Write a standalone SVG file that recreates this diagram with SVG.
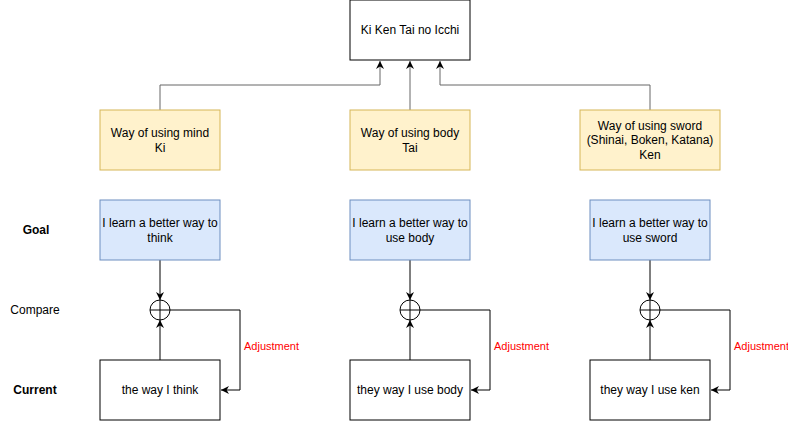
<svg xmlns="http://www.w3.org/2000/svg" width="788" height="421" viewBox="0 0 788 421">
<style>
text{font-family:"Liberation Sans",Arial,sans-serif;font-size:12px;fill:#000;text-anchor:middle}
.w{fill:#fff;stroke:#000;stroke-width:1}
.y{fill:#fff2cc;stroke:#d6b656;stroke-width:1}
.b{fill:#dae8fc;stroke:#6c8ebf;stroke-width:1}
.c{fill:none;stroke:#000;stroke-width:1}
.g{fill:none;stroke:#666;stroke-width:1}
.bold{font-weight:bold}
.adj{fill:#ff0000;font-size:11px;text-anchor:start}
</style>
<defs>
<marker id="a" viewBox="0 0 10 10" refX="10" refY="5" markerWidth="8" markerHeight="8" orient="auto" markerUnits="userSpaceOnUse"><path d="M0,0 L10,5 L0,10 L3,5 Z" fill="#000"/></marker>
</defs>
<rect width="788" height="421" fill="#fff"/>
<g id="connectors">
<path class="g" d="M160,110 V85 H380 V61" marker-end="url(#a)"/>
<path class="g" d="M410,110 V61" marker-end="url(#a)"/>
<path class="g" d="M650,110 V85 H440 V61" marker-end="url(#a)"/>
<path class="c" d="M160,260 V300" marker-end="url(#a)"/>
<path class="c" d="M160,360 V320" marker-end="url(#a)"/>
<path class="c" d="M170,310 H240 V390 H221" marker-end="url(#a)"/>
<path class="c" d="M410,260 V300" marker-end="url(#a)"/>
<path class="c" d="M410,360 V320" marker-end="url(#a)"/>
<path class="c" d="M420,310 H490 V390 H471" marker-end="url(#a)"/>
<path class="c" d="M650,260 V300" marker-end="url(#a)"/>
<path class="c" d="M650,360 V320" marker-end="url(#a)"/>
<path class="c" d="M660,310 H730 V390 H711" marker-end="url(#a)"/>
<text class="adj" x="244" y="350">Adjustment</text>
<text class="adj" x="494" y="350">Adjustment</text>
<text class="adj" x="734" y="350">Adjustment</text>
</g>
<g id="top"><rect class="w" x="350" y="0" width="120" height="60"/><text x="410" y="34">Ki Ken Tai no Icchi</text></g>
<g id="ki"><rect class="y" x="100" y="110" width="120" height="60"/><text x="160" y="137">Way of using mind</text><text x="160" y="152">Ki</text></g>
<g id="tai"><rect class="y" x="350" y="110" width="120" height="60"/><text x="410" y="137">Way of using body</text><text x="410" y="152">Tai</text></g>
<g id="ken"><rect class="y" x="580" y="110" width="140" height="60"/><text x="650" y="130">Way of using sword</text><text x="650" y="144">(Shinai, Boken, Katana)</text><text x="650" y="159">Ken</text></g>
<g id="goal1"><rect class="b" x="100" y="200" width="120" height="60"/><text x="160" y="227">I learn a better way to</text><text x="160" y="242">think</text></g>
<g id="goal2"><rect class="b" x="350" y="200" width="120" height="60"/><text x="410" y="227">I learn a better way to</text><text x="410" y="242">use body</text></g>
<g id="goal3"><rect class="b" x="590" y="200" width="120" height="60"/><text x="650" y="227">I learn a better way to</text><text x="650" y="242">use sword</text></g>
<g id="cmp1"><circle class="w" cx="160" cy="310" r="10"/><path class="c" d="M150,310 H170 M160,300 V320"/></g>
<g id="cmp2"><circle class="w" cx="410" cy="310" r="10"/><path class="c" d="M400,310 H420 M410,300 V320"/></g>
<g id="cmp3"><circle class="w" cx="650" cy="310" r="10"/><path class="c" d="M640,310 H660 M650,300 V320"/></g>
<g id="cur1"><rect class="w" x="100" y="360" width="120" height="60"/><text x="160" y="394">the way I think</text></g>
<g id="cur2"><rect class="w" x="350" y="360" width="120" height="60"/><text x="410" y="394">they way I use body</text></g>
<g id="cur3"><rect class="w" x="590" y="360" width="120" height="60"/><text x="650" y="394">they way I use ken</text></g>
<g id="labels">
<text class="bold" x="36" y="234">Goal</text>
<text x="35" y="314">Compare</text>
<text class="bold" x="35" y="394">Current</text>
</g>
</svg>
